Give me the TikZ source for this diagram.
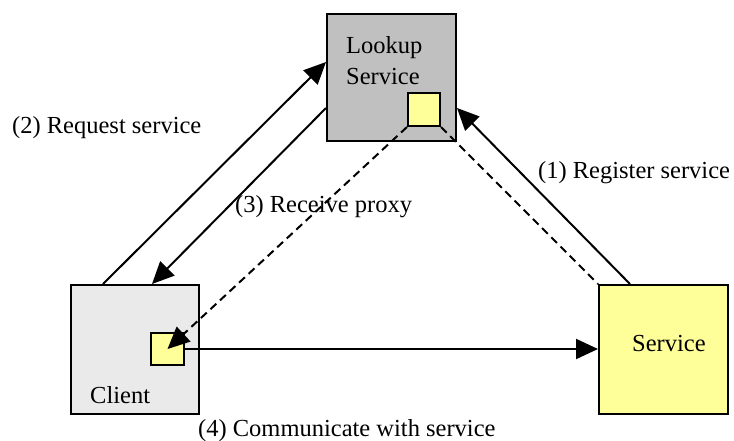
\documentclass[tikz,border=0pt]{standalone}
\usepackage{fontspec}
\setmainfont{Liberation Serif}
\newfontfamily\garfont{Liberation Serif}
\usetikzlibrary{arrows.meta}
\definecolor{lkgray}{HTML}{C0C0C0}
\definecolor{clgray}{HTML}{EAEAEA}
\definecolor{pyellow}{HTML}{FFFF99}
\tikzset{
  box/.style={draw=black, line width=2pt, rectangle, anchor=north west, inner sep=0pt},
  arr/.style={line width=2pt, -{Triangle[length=22pt,width=20pt]}},
  dsh/.style={line width=2pt, dash pattern=on 8pt off 5pt},
  lbl/.style={anchor=base west, inner sep=0pt, font=\garfont\fontsize{24.5}{29}\selectfont}
}
\begin{document}
\begin{tikzpicture}[x=1pt,y=-1pt]
\useasboundingbox (0,0) rectangle (734,440);
\node[box, fill=lkgray, minimum width=129pt, minimum height=127pt] (lookup) at (326,13) {};
\node[box, fill=clgray, minimum width=128pt, minimum height=129pt] (client) at (70,284) {};
\node[box, fill=pyellow, minimum width=129pt, minimum height=129pt] (service) at (598,284) {};
\node[box, fill=pyellow, minimum width=32pt, minimum height=33pt] (lsq) at (407,92) {};
\node[box, fill=pyellow, minimum width=33pt, minimum height=32pt] (csq) at (150,332) {};

\node[lbl] (tlk1) at (346,53) {Lookup};
\node[lbl] (tlk2) at (346,84) {Service};
\node[lbl] (tcl) at (90,403) {Client};
\node[lbl] (tsv) at (632,351) {Service};

\node[lbl] (t2) at (12,133) {(2) Request service};
\node[lbl] (t3) at (235,212) {(3) Receive proxy};
\node[lbl] (t1) at (538,178) {(1) Register service};
\node[lbl] (t4) at (198,436) {(4) Communicate with service};

\draw[arr] ([xshift=33pt]client.north west) -- ([yshift=-49pt]lookup.north west);
\draw[arr] ([yshift=-95pt]lookup.north west) -- ([xshift=82pt]client.north west);
\draw[arr] ([xshift=32pt]service.north west) -- ([yshift=-95pt]lookup.north east);
\draw[dsh, -{Triangle[length=22pt,width=20pt]}] (lsq.south west) -- (csq.center);
\draw[dsh] (lsq.south east) -- (service.north west);
\draw[arr] (csq.east) -- (csq.east -| service.west);
\end{tikzpicture}
\end{document}
